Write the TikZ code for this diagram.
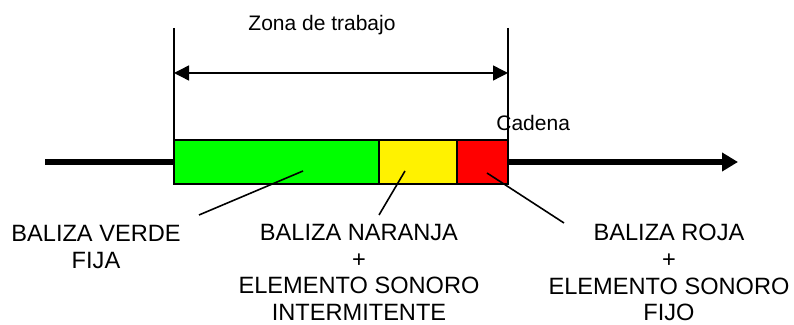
\documentclass[tikz,border=0pt]{standalone}
\usepackage{fontspec}
\setmainfont{Liberation Sans}
\usetikzlibrary{arrows.meta,positioning}
\tikzset{seg node/.style={rectangle,draw,line width=1pt,minimum height=22pt,inner sep=0pt,outer sep=0pt},
         label node/.style={align=center,inner sep=0pt,anchor=north,font=\fontsize{11.8}{13.3}\selectfont},
         edge label/.style={inner sep=0pt,font=\fontsize{10.5}{12.6}\selectfont},
         pointer/.style={line width=0.8pt},
         chain/.style={line width=2.6pt},
         zone line/.style={line width=0.7pt}
}

\begin{document}
\begin{tikzpicture}[x=0.5pt,y=-0.5pt,
zone tip/.style={{Triangle[length=7.5pt,width=7.5pt]}-{Triangle[length=7.5pt,width=7.5pt]}}]
\useasboundingbox (0,0) rectangle (794,325);

\coordinate (cs) at (45,162);
\coordinate (ce) at (738,162);
\coordinate (zl) at (174,28);
\coordinate (zr) at (508,28);
\coordinate (al) at (174,73);
\coordinate (ar) at (508,73);

\draw [chain] (cs) -- (174,162) coordinate (cg);
\draw [chain, -{Triangle[length=8pt,width=9pt]}] (508,162) coordinate (cr) -- (ce);

\node [seg node, fill=green, minimum width=102.5pt, anchor=north west] (verde) at (174,140) {};
\node [seg node, fill=yellow, minimum width=39pt, right=0pt of verde] (naranja) {};
\node [seg node, fill=red, minimum width=25.5pt, right=0pt of naranja] (roja) {};

\draw [zone line] (zl) -- (verde.north west);
\draw [zone line] (zr) -- (roja.north east);
\draw [zone line, zone tip] (al) -- (ar);

\node [edge label, anchor=base] (zona) at (322,31) {Zona de trabajo};
\node [edge label, anchor=base west] (cadena) at (496,131) {Cadena};

\node [label node] (verde label) at (96,225) {BALIZA VERDE\\FIJA};
\node [label node] (naranja label) at (359,224) {BALIZA NARANJA\\+\\ELEMENTO SONORO\\INTERMITENTE};
\node [label node] (roja label) at (669,224) {BALIZA ROJA\\+\\ELEMENTO SONORO\\FIJO};

\coordinate (pv) at (303,171);
\coordinate (lv) at (199,215);
\coordinate (pn) at (405,171);
\coordinate (ln) at (379,215);
\coordinate (pr) at (487,173);
\coordinate (lr) at (564,223);
\draw [pointer] (pv) -- (lv);
\draw [pointer] (pn) -- (ln);
\draw [pointer] (pr) -- (lr);
\end{tikzpicture}
\end{document}
